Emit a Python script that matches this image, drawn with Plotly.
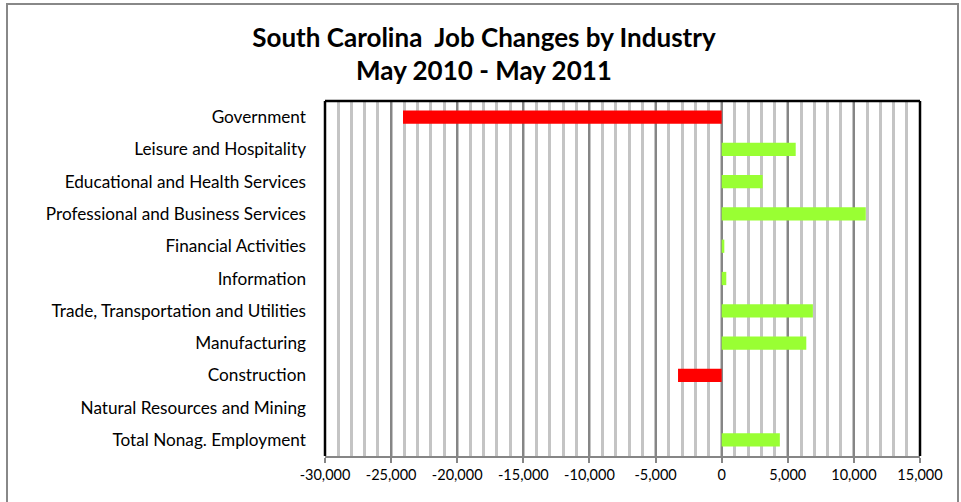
import plotly.graph_objects as go

categories = [
    "Government",
    "Leisure and Hospitality",
    "Educational and Health Services",
    "Professional and Business Services",
    "Financial Activities",
    "Information",
    "Trade, Transportation and Utilities",
    "Manufacturing",
    "Construction",
    "Natural Resources and Mining",
    "Total Nonag. Employment",
]
job_changes = [-24100, 5600, 3100, 10900, 200, 350, 6900, 6400, -3300, 0, 4400]
x_ticks = [-30000, -25000, -20000, -15000, -10000, -5000, 0, 5000, 10000, 15000]
x_tick_labels = ["-30,000", "-25,000", "-20,000", "-15,000", "-10,000", "-5,000",
                 "0", "5,000", "10,000", "15,000"]

colors = ["#FF0000" if v < 0 else "#99FF33" for v in job_changes]

fig = go.Figure(go.Bar(
    x=job_changes, y=categories, orientation="h",
    marker=dict(color=colors, line=dict(width=0)),
    width=0.41,
))

FONT = "Lato, Carlito, Calibri, sans-serif"

fig.update_layout(
    width=961, height=502,
    margin=dict(l=325, r=41, t=101, b=46),
    paper_bgcolor="white", plot_bgcolor="white",
    showlegend=False,
    font=dict(family=FONT, color="black"),
    title=dict(
        text="<b>South Carolina  Job Changes by Industry<br>May 2010 - May 2011</b>",
        x=484 / 961, xanchor="center", xref="container", y=0.907, yanchor="top",
        font=dict(size=26, family=FONT, color="black"),
    ),
)

fig.update_xaxes(
    range=[-30000, 15000], tickvals=x_ticks, ticktext=x_tick_labels,
    tickfont=dict(size=14.5, family=FONT, color="black"),
    showgrid=True, gridcolor="#868686", gridwidth=2,
    zeroline=True, zerolinecolor="#868686", zerolinewidth=2,
    minor=dict(dtick=1000, showgrid=True, gridcolor="#C4C4C4", gridwidth=2.5, ticks=""),
    showline=True, linecolor="#868686", linewidth=2,
    ticks="outside", ticklen=5, tickcolor="#868686", tickwidth=2,
    fixedrange=True,
)
fig.update_yaxes(
    autorange="reversed",
    tickfont=dict(size=17.2, family=FONT, color="black"),
    showgrid=False, ticks="", ticklabelstandoff=18,
    showline=False, fixedrange=True,
)

# plot frame: black left/top/right, outer gray chart border
frame = [
    dict(x0=0, x1=0, y0=0, y1=1),
    dict(x0=0, x1=1, y0=1, y1=1),
    dict(x0=1, x1=1, y0=0, y1=1),
]
for f in frame:
    fig.add_shape(type="line", xref="paper", yref="paper", line=dict(color="black", width=2.5), layer="above", **f)

fig.add_shape(type="rect", xref="paper", yref="paper",
              x0=(7 - 325) / 595, x1=(958 - 325) / 595,
              y0=-0.3, y1=(456 - 4) / 355,
              line=dict(color="#888888", width=2), layer="below")

fig.write_html("out.html", config={"displayModeBar": False},
               post_script="document.body.style.margin='0';document.body.style.padding='0';document.body.style.overflow='hidden';")
